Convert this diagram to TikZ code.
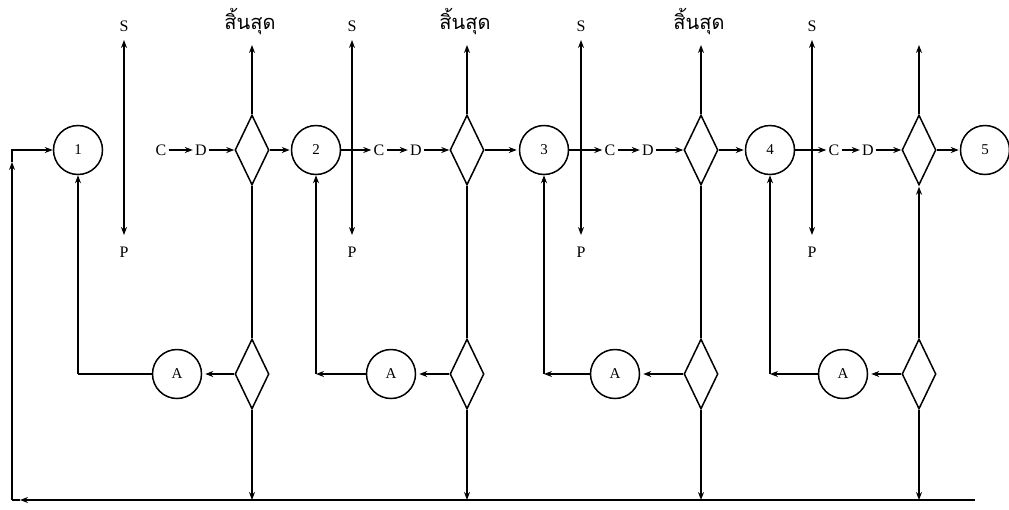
\documentclass[tikz,border=0pt]{standalone}
\usepackage{fontspec}
\setmainfont{Liberation Serif}
\newfontfamily\thaifont[Script=Thai]{Loma}
\usetikzlibrary{shapes.geometric,arrows.meta}
\begin{document}
\begin{tikzpicture}[x=1pt,y=-1pt,line width=1.8pt,
  arr/.style={-{Stealth[length=8pt,width=6pt]}},
  darr/.style={{Stealth[length=8pt,width=6pt]}-{Stealth[length=8pt,width=6pt]}},
  circ/.style={circle,draw,minimum size=49pt,inner sep=0pt,line width=1.5pt,font=\fontsize{15}{15}\selectfont},
  dia/.style={diamond,draw,minimum width=34pt,minimum height=70pt,inner sep=0pt,line width=1.5pt},
  lbl/.style={inner sep=1.5pt,font=\fontsize{16}{16}\selectfont},
  endlbl/.style={inner sep=0pt,font=\thaifont\fontsize{20}{20}\selectfont}]
\useasboundingbox (0,0) rectangle (1009,509);
% main circles
\node[circ] (c1) at (78,150) {1};
\node[circ] (c2) at (316,150) {2};
\node[circ] (c3) at (544,150) {3};
\node[circ] (c4) at (770,150) {4};
\node[circ] (c5) at (985,150) {5};
% upper diamonds
\node[dia] (u1) at (252,150) {};
\node[dia] (u2) at (467,150) {};
\node[dia] (u3) at (701,150) {};
\node[dia] (u4) at (919,150) {};
% lower diamonds
\node[dia] (l1) at (252,374) {};
\node[dia] (l2) at (467,374) {};
\node[dia] (l3) at (701,374) {};
\node[dia] (l4) at (919,374) {};
% A circles
\node[circ] (a1) at (177,374) {A};
\node[circ] (a2) at (391,374) {A};
\node[circ] (a3) at (615,374) {A};
\node[circ] (a4) at (843,374) {A};
% C and D
\node[lbl] (cc1) at (161,150) {C};
\node[lbl] (dd1) at (201,150) {D};
\node[lbl] (cc2) at (379,150) {C};
\node[lbl] (dd2) at (416,150) {D};
\node[lbl] (cc3) at (610,150) {C};
\node[lbl] (dd3) at (648,150) {D};
\node[lbl] (cc4) at (834,150) {C};
\node[lbl] (dd4) at (868,150) {D};
% S and P
\foreach \i/\x in {1/124,2/352,3/581,4/812}{
  \node[lbl] (s\i) at (\x,26) {S};
  \node[lbl] (p\i) at (\x,252) {P};
  \coordinate (st\i) at (\x,40);
  \coordinate (sb\i) at (\x,235);
}
% end labels
\foreach \i/\x in {1/250,2/465,3/699}{
  \node[endlbl] (e\i) at (\x,22) {สิ้นสุด};
}
\foreach \i/\x in {1/252,2/467,3/701,4/919}{
  \coordinate (et\i) at (\x,45);
  \coordinate (b\i) at (\x,500);
}
% corners
\coordinate (k1) at (78,374);
\coordinate (k2) at (316,374);
\coordinate (k3) at (544,374);
\coordinate (k4) at (770,374);
\coordinate (br) at (975,500);
\coordinate (bl) at (12,500);
\coordinate (bm) at (20,500);
\coordinate (tl) at (12,150);
\coordinate (lm) at (12,162);

% S-P double arrows
\foreach \i in {1,...,4}{ \draw[darr] (st\i) -- (sb\i); }
% top exits
\foreach \i in {1,...,4}{ \draw[arr] (u\i.north) -- (et\i); }
% main flow
\draw[arr] (cc1) -- (dd1);
\draw[arr] (dd1) -- (u1.west);
\draw[arr,shorten >=1pt] (u1.east) -- (c2.west);
\draw[arr] (c2.east) -- (cc2.west);
\draw[arr] (cc2) -- (dd2);
\draw[arr] (dd2) -- (u2.west);
\draw[arr,shorten >=2pt] (u2.east) -- (c3.west);
\draw[arr] (c3.east) -- (cc3.west);
\draw[arr] (cc3) -- (dd3);
\draw[arr] (dd3) -- (u3.west);
\draw[arr,shorten >=1pt] (u3.east) -- (c4.west);
\draw[arr] (c4.east) -- (cc4.west);
\draw[arr] (cc4) -- (dd4);
\draw[arr] (dd4) -- (u4.west);
\draw[arr,shorten >=1pt] (u4.east) -- (c5.west);
% vertical links between diamonds
\draw (u1.south) -- (l1.north);
\draw (u2.south) -- (l2.north);
\draw (u3.south) -- (l3.north);
\draw[arr,shorten >=1pt] (l4.north) -- (u4.south);
% lower diamonds to A
\foreach \i in {1,...,4}{ \draw[arr,shorten >=3pt] (l\i.west) -- (a\i.east); }
% A back to circles
\draw (a1.west) -- (k1);
\draw[arr] (k1) -- (c1.south);
\draw[arr] (a2.west) -- (k2);
\draw[arr] (k2) -- (c2.south);
\draw[arr] (a3.west) -- (k3);
\draw[arr] (k3) -- (c3.south);
\draw[arr] (a4.west) -- (k4);
\draw[arr] (k4) -- (c4.south);
% down to bottom line
\foreach \i in {1,...,4}{ \draw[arr] (l\i.south) -- (b\i); }
% bottom return line
\draw[arr] (br) -- (bm);
\draw (bm) -- (bl);
\draw[arr] (bl) -- (lm);
\draw[arr] (lm) -- (tl) -- (c1.west);
\end{tikzpicture}
\end{document}
